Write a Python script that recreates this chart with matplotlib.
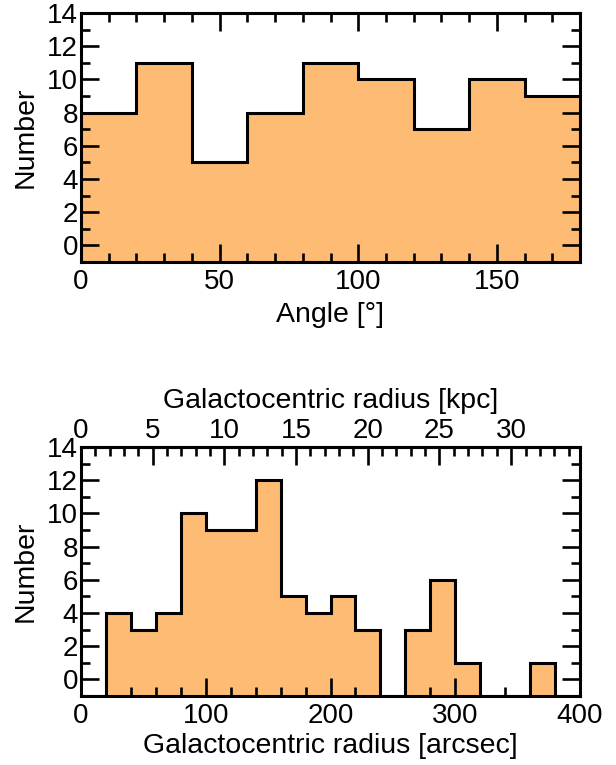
import numpy as np
import matplotlib
matplotlib.use("Agg")
import matplotlib.pyplot as plt
from matplotlib.ticker import MultipleLocator

plt.rcParams["font.family"] = ["Liberation Sans", "DejaVu Sans"]

# position angle histogram (20 deg bins)
angle_edges = [0, 20, 40, 60, 80, 100, 120, 140, 160, 180]
angle_counts = [8, 11, 5, 8, 11, 10, 7, 10, 9]

# galactocentric radius histogram (20 arcsec bins)
radius_edges = list(range(0, 420, 20))
radius_counts = [0, 4, 3, 4, 10, 9, 9, 12, 5, 4, 5, 3, 0, 3, 6, 1, 0, 0, 1, 0]

kpc_per_arcsec = 0.087

FILL = "#fdbb74"
FS = 20
LFS = 20.5
YMIN, YMAX = -1, 14


def style_axis(ax, top=True):
    ax.tick_params(which="both", direction="in", width=1.9, labelsize=FS,
                   left=True, right=True, bottom=True, top=top)
    ax.tick_params(which="major", length=13)
    ax.tick_params(which="minor", length=6.5)
    ax.tick_params(axis="y", pad=2)
    ax.tick_params(axis="x", pad=5)
    for s in ax.spines.values():
        s.set_linewidth(2.2)
    ax.yaxis.set_major_locator(MultipleLocator(2))
    ax.yaxis.set_minor_locator(MultipleLocator(1))
    ax.set_ylim(YMIN, YMAX)
    ax.set_yticks(range(0, 15, 2))


def draw_hist(ax, counts, edges):
    h = np.array(counts, dtype=float)
    h = np.where(h > 0, h, YMIN)
    ax.stairs(h, edges, baseline=YMIN, fill=True, color=FILL, lw=0)
    ax.stairs(h, edges, baseline=None, color="black", lw=2.2)


fig = plt.figure(figsize=(6.16, 7.65), dpi=100)
W, H = 616, 765
ax1 = fig.add_axes([81 / W, 1 - 262 / H, 499 / W, 249 / H])
ax2 = fig.add_axes([81 / W, 1 - 696 / H, 499 / W, 249 / H])

# top panel
draw_hist(ax1, angle_counts, angle_edges)
ax1.set_xlim(0, 180)
style_axis(ax1)
ax1.xaxis.set_major_locator(MultipleLocator(50))
ax1.xaxis.set_minor_locator(MultipleLocator(10))
ax1.set_xlabel("Angle [°]", fontsize=LFS, labelpad=5)
ax1.set_ylabel("Number", fontsize=LFS, labelpad=6)

# bottom panel
draw_hist(ax2, radius_counts, radius_edges)
ax2.set_xlim(0, 400)
style_axis(ax2, top=False)
ax2.xaxis.set_major_locator(MultipleLocator(100))
ax2.xaxis.set_minor_locator(MultipleLocator(20))
ax2.set_xlabel("Galactocentric radius [arcsec]", fontsize=LFS, labelpad=3)
ax2.set_ylabel("Number", fontsize=LFS, labelpad=6)

sec = ax2.secondary_xaxis("top", functions=(lambda x: x * kpc_per_arcsec,
                                            lambda x: x / kpc_per_arcsec))
sec.xaxis.set_major_locator(MultipleLocator(5))
sec.xaxis.set_minor_locator(MultipleLocator(1))
sec.tick_params(which="both", direction="in", width=1.9, labelsize=FS, pad=2)
sec.tick_params(which="major", length=13)
sec.tick_params(which="minor", length=6.5)
sec.spines["top"].set_linewidth(2.2)
sec.set_xlabel("Galactocentric radius [kpc]", fontsize=LFS, labelpad=7)

fig.savefig("out.png", dpi=100)
